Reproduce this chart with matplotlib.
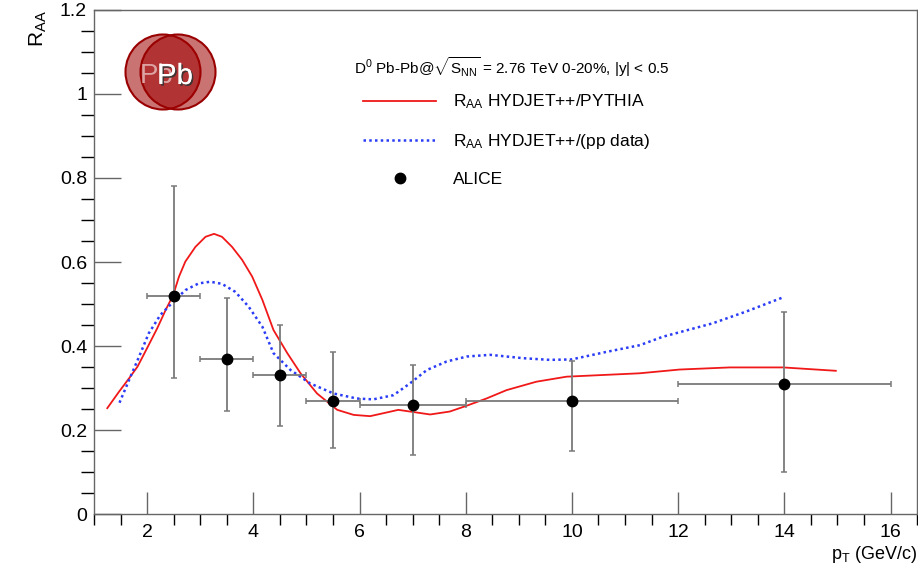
import numpy as np
import matplotlib
matplotlib.use('Agg')
from matplotlib import pyplot as plt
from matplotlib.lines import Line2D
from matplotlib.patches import Circle
from matplotlib.ticker import MultipleLocator
import matplotlib.patheffects as pe

plt.rcParams['font.family'] = ['Liberation Sans', 'DejaVu Sans']
plt.rcParams['mathtext.fontset'] = 'custom'
plt.rcParams['mathtext.rm'] = 'Liberation Sans'
plt.rcParams['mathtext.it'] = 'Liberation Sans:italic'

# ALICE D0 points
alice_pt = [2.5, 3.5, 4.5, 5.5, 7.0, 10.0, 14.0]
alice_xerr = [0.5, 0.5, 0.5, 0.5, 1.0, 2.0, 2.0]
alice_raa = [0.52, 0.37, 0.33, 0.27, 0.26, 0.27, 0.31]
alice_up = [0.26, 0.144, 0.12, 0.115, 0.095, 0.095, 0.17]
alice_dn = [0.195, 0.125, 0.12, 0.113, 0.12, 0.12, 0.21]

# HYDJET++/PYTHIA
pyth_pt = [1.25, 1.47, 1.66, 1.82, 2.0, 2.19, 2.35, 2.49, 2.6, 2.72, 2.91, 3.1, 3.26,
           3.41, 3.6, 3.79, 3.98, 4.17, 4.38, 4.64, 4.89, 5.2, 5.58, 5.89, 6.2, 6.52,
           6.73, 6.95, 7.33, 7.7, 8.0, 8.39, 8.77, 9.33, 9.9, 11.27, 12.03, 12.97,
           13.98, 14.97]
pyth_raa = [0.252, 0.291, 0.323, 0.351, 0.395, 0.442, 0.486, 0.521, 0.565, 0.601, 0.636,
            0.66, 0.667, 0.66, 0.636, 0.605, 0.565, 0.51, 0.438, 0.383, 0.335, 0.287,
            0.248, 0.236, 0.233, 0.242, 0.248, 0.244, 0.237, 0.244, 0.257, 0.275, 0.295,
            0.315, 0.327, 0.335, 0.344, 0.349, 0.349, 0.341]

# HYDJET++/(pp data)
ppd_pt = [1.48, 1.66, 1.85, 2.03, 2.25, 2.49, 2.72, 2.97, 3.19, 3.41, 3.66, 3.91, 4.17,
          4.38, 4.7, 5.07, 5.51, 5.95, 6.26, 6.64, 6.95, 7.27, 7.64, 8.02, 8.46, 9.08,
          9.58, 9.99, 10.65, 11.28, 11.71, 12.65, 13.28, 13.98]
ppd_raa = [0.265, 0.319, 0.375, 0.43, 0.474, 0.505, 0.533, 0.549, 0.553, 0.548, 0.529,
           0.494, 0.446, 0.383, 0.343, 0.311, 0.287, 0.275, 0.273, 0.283, 0.311, 0.343,
           0.363, 0.375, 0.379, 0.371, 0.367, 0.368, 0.386, 0.402, 0.422, 0.454, 0.482,
           0.516]

fig = plt.figure(figsize=(9.18, 5.7), dpi=100)
ax = fig.add_axes([0.1024, 0.0982, 0.8966, 0.8843])

ax.plot(pyth_pt, pyth_raa, color='#f01818', lw=1.3)
ax.plot(ppd_pt, ppd_raa, color='#2a3cf5', lw=1.8, ls=(0, (1, 1.3)))
ax.errorbar(alice_pt, alice_raa, xerr=alice_xerr, yerr=[alice_dn, alice_up],
            fmt='o', color='black', ms=7.5, ecolor='#7a7a7a', elinewidth=1.3,
            capsize=2, capthick=1.1)

ax.set_xlim(1, 16.5)
ax.set_ylim(0, 1.2)
ax.xaxis.set_major_locator(MultipleLocator(2))
ax.xaxis.set_minor_locator(MultipleLocator(0.5))
ax.yaxis.set_major_locator(MultipleLocator(0.2))
ax.yaxis.set_minor_locator(MultipleLocator(0.05))
ax.yaxis.set_major_formatter(plt.FuncFormatter(lambda v, p: '%g' % v))
ax.tick_params(direction='in', colors='#666666', labelcolor='black', labelsize=14,
               top=False, right=False, width=1.0)
ax.tick_params(axis='y', which='major', length=19.5, pad=5)
ax.tick_params(axis='y', which='minor', length=9.5, width=1.0)
ax.tick_params(axis='x', which='major', length=16, pad=7)
ax.tick_params(axis='x', which='minor', length=8, width=1.0)
for s in ax.spines.values():
    s.set_color('#666666')
    s.set_linewidth(1.0)

ax.set_ylabel(r'R$_{\mathrm{AA}}$', loc='top', fontsize=15, labelpad=8)
ax.set_xlabel(r'p$_{\mathrm{T}}$ (GeV/c)', loc='right', fontsize=13, labelpad=2)

ax.text(0.316, 0.887, r'D$^{0}$ Pb-Pb@$\sqrt{\mathrm{S}_{\mathrm{NN}}}$ = 2.76 TeV 0-20%, |y| < 0.5',
        transform=ax.transAxes, fontsize=11, va='center', ha='left')

handles = [Line2D([], [], color='#f01818', lw=1.3),
           Line2D([], [], color='#2a3cf5', lw=1.8, ls=(0, (1, 1.3))),
           Line2D([], [], color='black', marker='o', ls='none', ms=7.5)]
labels = [r'R$_{\mathrm{AA}}$ HYDJET++/PYTHIA', r'R$_{\mathrm{AA}}$ HYDJET++/(pp data)', 'ALICE']
ax.legend(handles, labels, loc='upper left', bbox_to_anchor=(0.327, 0.836), frameon=False,
          fontsize=12.5, handlelength=4.2, handletextpad=1.0, labelspacing=1.2,
          borderaxespad=0, borderpad=0)

# Pb-Pb logo
tr = fig.dpi_scale_trans
for cx in (1.63, 1.78):
    fig.patches.append(Circle((cx, 4.98), 0.375, transform=tr, facecolor='#a00000',
                              alpha=0.55, edgecolor='none'))
    fig.patches.append(Circle((cx, 4.98), 0.375, transform=tr, facecolor='none',
                              edgecolor='#990000', lw=1.5))
fig.text(1.57, 4.94, 'Pb', transform=tr, fontsize=20, color='#e8c0c0', alpha=0.8,
         ha='center', va='center')
fig.text(1.75, 4.94, 'Pb', transform=tr, fontsize=21, color='white', ha='center', va='center',
         path_effects=[pe.withSimplePatchShadow(offset=(1.2, -1.2), shadow_rgbFace='#333333', alpha=0.9),
                       pe.Normal()])

fig.savefig('out.png', dpi=100)
